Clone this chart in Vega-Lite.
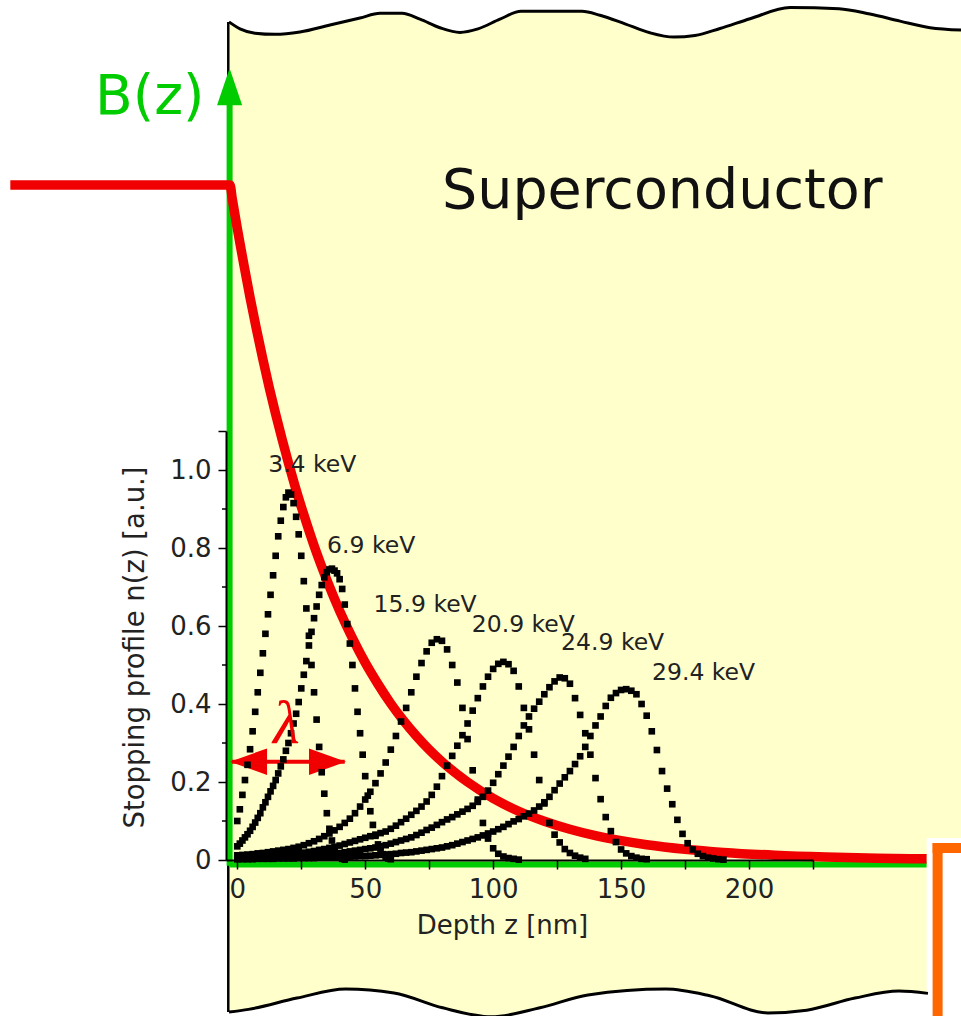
{
 "$schema": "https://vega.github.io/schema/vega-lite/v6.json",
 "width": 587,
 "height": 429,
 "autosize": {"type": "none"},
 "padding": {"left": 226, "top": 431, "right": 148, "bottom": 156},
 "background": "white",
 "config": {"view": {"stroke": null}},
 "datasets": {
  "top": [
   {"z":-3.24,"v":2.149},{"z":1.06,"v":2.131},{"z":6.92,"v":2.12},{"z":14.73,"v":2.117},{"z":24.5,"v":2.123},{"z":36.23,"v":2.141},{"z":47.95,"v":2.159},{"z":55.77,"v":2.171},{"z":64.36,"v":2.171},{"z":71.4,"v":2.156},{"z":79.21,"v":2.134},{"z":87.03,"v":2.122},{"z":94.06,"v":2.131},{"z":102.66,"v":2.156},{"z":110.87,"v":2.176},{"z":134.71,"v":2.176},{"z":141.75,"v":2.166},{"z":151.52,"v":2.144},{"z":161.29,"v":2.121},{"z":170.67,"v":2.11},{"z":178.88,"v":2.114},{"z":188.65,"v":2.132},{"z":200.38,"v":2.157},{"z":216.01,"v":2.186},{"z":235.16,"v":2.183},{"z":247.28,"v":2.169},{"z":259.0,"v":2.151},{"z":270.73,"v":2.134},{"z":282.85,"v":2.128}
  ],
  "bot": [
   {"z":-3.24,"v":-0.39},{"z":4.38,"v":-0.383},{"z":23.33,"v":-0.354},{"z":42.33,"v":-0.331},{"z":61.24,"v":-0.341},{"z":80.27,"v":-0.379},{"z":99.27,"v":-0.402},{"z":118.3,"v":-0.379},{"z":137.06,"v":-0.346},{"z":167.55,"v":-0.331},{"z":184.63,"v":-0.348},{"z":207.41,"v":-0.392},{"z":222.57,"v":-0.385},{"z":241.41,"v":-0.354},{"z":258.6,"v":-0.336},{"z":269.93,"v":-0.342}
  ],
  "field": [
   {"z":-88.7,"b":1.731},{"z":-2.85,"b":1.731},{"z":-2,"b":1.697},{"z":-1,"b":1.658},{"z":0,"b":1.62},{"z":1,"b":1.583},{"z":2.5,"b":1.529},{"z":5,"b":1.442},{"z":7.5,"b":1.361},{"z":10,"b":1.284},{"z":12.5,"b":1.211},{"z":15,"b":1.143},{"z":17.5,"b":1.079},{"z":20,"b":1.018},{"z":22.5,"b":0.96},{"z":25,"b":0.906},{"z":27.5,"b":0.855},{"z":30,"b":0.806},{"z":35,"b":0.718},{"z":40,"b":0.639},{"z":45,"b":0.569},{"z":50,"b":0.506},{"z":55,"b":0.451},{"z":60,"b":0.401},{"z":65,"b":0.357},{"z":70,"b":0.318},{"z":75,"b":0.283},{"z":80,"b":0.252},{"z":90,"b":0.2},{"z":100,"b":0.158},{"z":110,"b":0.125},{"z":120,"b":0.0994},{"z":130,"b":0.0788},{"z":140,"b":0.0624},{"z":150,"b":0.0495},{"z":160,"b":0.0392},{"z":175,"b":0.0277},{"z":190,"b":0.0195},{"z":210,"b":0.0123},{"z":230,"b":0.0077},{"z":250,"b":0.0048},{"z":269.4,"b":0.003}
  ],
  "labels": [
   {"t":"3.4 keV","z":12.08,"n":0.995},{"t":"6.9 keV","z":35.1,"n":0.786},{"t":"15.9 keV","z":53.27,"n":0.636},{"t":"20.9 keV","z":91.65,"n":0.585},{"t":"24.9 keV","z":126.55,"n":0.538},{"t":"29.4 keV","z":162.1,"n":0.4615}
  ],
  "minor": [{"v":0.1},{"v":0.3},{"v":0.5},{"v":0.7},{"v":0.9}],
  "prof": [
   {"e":3.4,"z":0,"n":0.1},{"e":3.4,"z":1,"n":0.13},{"e":3.4,"z":2,"n":0.167},{"e":3.4,"z":3,"n":0.205},{"e":3.4,"z":4,"n":0.244},{"e":3.4,"z":5,"n":0.284},{"e":3.4,"z":6,"n":0.33},{"e":3.4,"z":7,"n":0.38},{"e":3.4,"z":8,"n":0.43},{"e":3.4,"z":9,"n":0.48},{"e":3.4,"z":10,"n":0.53},{"e":3.4,"z":11,"n":0.58},{"e":3.4,"z":12,"n":0.63},{"e":3.4,"z":13,"n":0.68},{"e":3.4,"z":14,"n":0.73},{"e":3.4,"z":15,"n":0.78},{"e":3.4,"z":16,"n":0.83},{"e":3.4,"z":17,"n":0.87},{"e":3.4,"z":18,"n":0.905},{"e":3.4,"z":19,"n":0.93},{"e":3.4,"z":20,"n":0.942},{"e":3.4,"z":21,"n":0.937},{"e":3.4,"z":22,"n":0.915},{"e":3.4,"z":23,"n":0.88},{"e":3.4,"z":24,"n":0.835},{"e":3.4,"z":25,"n":0.78},{"e":3.4,"z":26,"n":0.715},{"e":3.4,"z":27,"n":0.645},{"e":3.4,"z":28,"n":0.575},{"e":3.4,"z":29,"n":0.5},{"e":3.4,"z":30,"n":0.43},{"e":3.4,"z":31,"n":0.36},{"e":3.4,"z":32,"n":0.29},{"e":3.4,"z":33,"n":0.225},{"e":3.4,"z":34,"n":0.17},{"e":3.4,"z":35,"n":0.12},{"e":3.4,"z":36,"n":0.08},{"e":3.4,"z":37,"n":0.05},{"e":3.4,"z":38,"n":0.03},{"e":3.4,"z":39,"n":0.015},{"e":3.4,"z":40,"n":0.007},{"e":3.4,"z":41,"n":0.003},{"e":3.4,"z":42,"n":0.001},
   {"e":6.9,"z":0,"n":0.035},{"e":6.9,"z":1,"n":0.042},{"e":6.9,"z":2,"n":0.05},{"e":6.9,"z":3,"n":0.058},{"e":6.9,"z":4,"n":0.066},{"e":6.9,"z":5,"n":0.075},{"e":6.9,"z":6,"n":0.085},{"e":6.9,"z":7,"n":0.096},{"e":6.9,"z":8,"n":0.108},{"e":6.9,"z":9,"n":0.12},{"e":6.9,"z":10,"n":0.135},{"e":6.9,"z":11,"n":0.148},{"e":6.9,"z":12,"n":0.162},{"e":6.9,"z":13,"n":0.176},{"e":6.9,"z":14,"n":0.19},{"e":6.9,"z":15,"n":0.205},{"e":6.9,"z":16,"n":0.222},{"e":6.9,"z":17,"n":0.24},{"e":6.9,"z":18,"n":0.258},{"e":6.9,"z":19,"n":0.28},{"e":6.9,"z":20,"n":0.3},{"e":6.9,"z":21,"n":0.325},{"e":6.9,"z":22,"n":0.35},{"e":6.9,"z":23,"n":0.375},{"e":6.9,"z":24,"n":0.405},{"e":6.9,"z":25,"n":0.44},{"e":6.9,"z":26,"n":0.475},{"e":6.9,"z":27,"n":0.51},{"e":6.9,"z":28,"n":0.55},{"e":6.9,"z":29,"n":0.585},{"e":6.9,"z":30,"n":0.62},{"e":6.9,"z":31,"n":0.65},{"e":6.9,"z":32,"n":0.68},{"e":6.9,"z":33,"n":0.705},{"e":6.9,"z":34,"n":0.725},{"e":6.9,"z":35,"n":0.738},{"e":6.9,"z":36,"n":0.745},{"e":6.9,"z":37,"n":0.747},{"e":6.9,"z":38,"n":0.742},{"e":6.9,"z":39,"n":0.735},{"e":6.9,"z":40,"n":0.72},{"e":6.9,"z":41,"n":0.695},{"e":6.9,"z":42,"n":0.655},{"e":6.9,"z":43,"n":0.605},{"e":6.9,"z":44,"n":0.555},{"e":6.9,"z":45,"n":0.5},{"e":6.9,"z":46,"n":0.44},{"e":6.9,"z":47,"n":0.38},{"e":6.9,"z":48,"n":0.325},{"e":6.9,"z":49,"n":0.27},{"e":6.9,"z":50,"n":0.215},{"e":6.9,"z":51,"n":0.165},{"e":6.9,"z":52,"n":0.125},{"e":6.9,"z":53,"n":0.09},{"e":6.9,"z":54,"n":0.062},{"e":6.9,"z":55,"n":0.04},{"e":6.9,"z":56,"n":0.025},{"e":6.9,"z":57,"n":0.015},{"e":6.9,"z":58,"n":0.008},{"e":6.9,"z":59,"n":0.004},{"e":6.9,"z":60,"n":0.002},
   {"e":15.9,"z":0,"n":0.012},{"e":15.9,"z":2,"n":0.013},{"e":15.9,"z":4,"n":0.014},{"e":15.9,"z":6,"n":0.015},{"e":15.9,"z":8,"n":0.017},{"e":15.9,"z":10,"n":0.018},{"e":15.9,"z":12,"n":0.02},{"e":15.9,"z":14,"n":0.022},{"e":15.9,"z":16,"n":0.024},{"e":15.9,"z":18,"n":0.026},{"e":15.9,"z":20,"n":0.028},{"e":15.9,"z":22,"n":0.031},{"e":15.9,"z":24,"n":0.034},{"e":15.9,"z":26,"n":0.038},{"e":15.9,"z":28,"n":0.043},{"e":15.9,"z":30,"n":0.048},{"e":15.9,"z":32,"n":0.054},{"e":15.9,"z":34,"n":0.061},{"e":15.9,"z":36,"n":0.068},{"e":15.9,"z":38,"n":0.076},{"e":15.9,"z":40,"n":0.085},{"e":15.9,"z":42,"n":0.095},{"e":15.9,"z":44,"n":0.106},{"e":15.9,"z":46,"n":0.12},{"e":15.9,"z":48,"n":0.137},{"e":15.9,"z":50,"n":0.155},{"e":15.9,"z":52,"n":0.175},{"e":15.9,"z":54,"n":0.197},{"e":15.9,"z":56,"n":0.222},{"e":15.9,"z":58,"n":0.25},{"e":15.9,"z":60,"n":0.283},{"e":15.9,"z":62,"n":0.318},{"e":15.9,"z":64,"n":0.355},{"e":15.9,"z":66,"n":0.39},{"e":15.9,"z":68,"n":0.43},{"e":15.9,"z":70,"n":0.47},{"e":15.9,"z":72,"n":0.505},{"e":15.9,"z":74,"n":0.535},{"e":15.9,"z":76,"n":0.557},{"e":15.9,"z":78,"n":0.566},{"e":15.9,"z":80,"n":0.562},{"e":15.9,"z":82,"n":0.54},{"e":15.9,"z":84,"n":0.5},{"e":15.9,"z":86,"n":0.455},{"e":15.9,"z":88,"n":0.39},{"e":15.9,"z":90,"n":0.31},{"e":15.9,"z":92,"n":0.23},{"e":15.9,"z":94,"n":0.155},{"e":15.9,"z":96,"n":0.095},{"e":15.9,"z":98,"n":0.055},{"e":15.9,"z":100,"n":0.03},{"e":15.9,"z":102,"n":0.016},{"e":15.9,"z":104,"n":0.009},{"e":15.9,"z":106,"n":0.005},{"e":15.9,"z":108,"n":0.003},{"e":15.9,"z":110,"n":0.001},
   {"e":20.9,"z":0,"n":0.005},{"e":20.9,"z":2,"n":0.006},{"e":20.9,"z":4,"n":0.006},{"e":20.9,"z":6,"n":0.007},{"e":20.9,"z":8,"n":0.008},{"e":20.9,"z":10,"n":0.009},{"e":20.9,"z":12,"n":0.01},{"e":20.9,"z":14,"n":0.011},{"e":20.9,"z":16,"n":0.012},{"e":20.9,"z":18,"n":0.013},{"e":20.9,"z":20,"n":0.015},{"e":20.9,"z":22,"n":0.016},{"e":20.9,"z":24,"n":0.018},{"e":20.9,"z":26,"n":0.019},{"e":20.9,"z":28,"n":0.021},{"e":20.9,"z":30,"n":0.023},{"e":20.9,"z":32,"n":0.026},{"e":20.9,"z":34,"n":0.028},{"e":20.9,"z":36,"n":0.031},{"e":20.9,"z":38,"n":0.034},{"e":20.9,"z":40,"n":0.037},{"e":20.9,"z":42,"n":0.041},{"e":20.9,"z":44,"n":0.045},{"e":20.9,"z":46,"n":0.049},{"e":20.9,"z":48,"n":0.053},{"e":20.9,"z":50,"n":0.057},{"e":20.9,"z":52,"n":0.061},{"e":20.9,"z":54,"n":0.065},{"e":20.9,"z":56,"n":0.069},{"e":20.9,"z":58,"n":0.073},{"e":20.9,"z":60,"n":0.08},{"e":20.9,"z":62,"n":0.088},{"e":20.9,"z":64,"n":0.097},{"e":20.9,"z":66,"n":0.106},{"e":20.9,"z":68,"n":0.116},{"e":20.9,"z":70,"n":0.126},{"e":20.9,"z":72,"n":0.137},{"e":20.9,"z":74,"n":0.15},{"e":20.9,"z":76,"n":0.167},{"e":20.9,"z":78,"n":0.188},{"e":20.9,"z":80,"n":0.215},{"e":20.9,"z":82,"n":0.242},{"e":20.9,"z":84,"n":0.267},{"e":20.9,"z":86,"n":0.293},{"e":20.9,"z":88,"n":0.32},{"e":20.9,"z":90,"n":0.35},{"e":20.9,"z":92,"n":0.383},{"e":20.9,"z":94,"n":0.415},{"e":20.9,"z":96,"n":0.445},{"e":20.9,"z":98,"n":0.47},{"e":20.9,"z":100,"n":0.49},{"e":20.9,"z":102,"n":0.503},{"e":20.9,"z":104,"n":0.508},{"e":20.9,"z":106,"n":0.502},{"e":20.9,"z":108,"n":0.485},{"e":20.9,"z":110,"n":0.445},{"e":20.9,"z":112,"n":0.39},{"e":20.9,"z":114,"n":0.335},{"e":20.9,"z":116,"n":0.27},{"e":20.9,"z":118,"n":0.205},{"e":20.9,"z":120,"n":0.145},{"e":20.9,"z":122,"n":0.095},{"e":20.9,"z":124,"n":0.065},{"e":20.9,"z":126,"n":0.045},{"e":20.9,"z":128,"n":0.028},{"e":20.9,"z":130,"n":0.018},{"e":20.9,"z":132,"n":0.011},{"e":20.9,"z":134,"n":0.006},{"e":20.9,"z":136,"n":0.003},
   {"e":24.9,"z":0,"n":0.003},{"e":24.9,"z":2,"n":0.003},{"e":24.9,"z":4,"n":0.003},{"e":24.9,"z":6,"n":0.004},{"e":24.9,"z":8,"n":0.004},{"e":24.9,"z":10,"n":0.005},{"e":24.9,"z":12,"n":0.005},{"e":24.9,"z":14,"n":0.006},{"e":24.9,"z":16,"n":0.006},{"e":24.9,"z":18,"n":0.007},{"e":24.9,"z":20,"n":0.008},{"e":24.9,"z":22,"n":0.008},{"e":24.9,"z":24,"n":0.009},{"e":24.9,"z":26,"n":0.01},{"e":24.9,"z":28,"n":0.011},{"e":24.9,"z":30,"n":0.012},{"e":24.9,"z":32,"n":0.013},{"e":24.9,"z":34,"n":0.014},{"e":24.9,"z":36,"n":0.015},{"e":24.9,"z":38,"n":0.017},{"e":24.9,"z":40,"n":0.018},{"e":24.9,"z":42,"n":0.02},{"e":24.9,"z":44,"n":0.022},{"e":24.9,"z":46,"n":0.024},{"e":24.9,"z":48,"n":0.026},{"e":24.9,"z":50,"n":0.028},{"e":24.9,"z":52,"n":0.03},{"e":24.9,"z":54,"n":0.032},{"e":24.9,"z":56,"n":0.035},{"e":24.9,"z":58,"n":0.038},{"e":24.9,"z":60,"n":0.042},{"e":24.9,"z":62,"n":0.046},{"e":24.9,"z":64,"n":0.05},{"e":24.9,"z":66,"n":0.054},{"e":24.9,"z":68,"n":0.058},{"e":24.9,"z":70,"n":0.064},{"e":24.9,"z":72,"n":0.07},{"e":24.9,"z":74,"n":0.077},{"e":24.9,"z":76,"n":0.083},{"e":24.9,"z":78,"n":0.09},{"e":24.9,"z":80,"n":0.097},{"e":24.9,"z":82,"n":0.104},{"e":24.9,"z":84,"n":0.11},{"e":24.9,"z":86,"n":0.117},{"e":24.9,"z":88,"n":0.124},{"e":24.9,"z":90,"n":0.131},{"e":24.9,"z":92,"n":0.139},{"e":24.9,"z":94,"n":0.149},{"e":24.9,"z":96,"n":0.162},{"e":24.9,"z":98,"n":0.178},{"e":24.9,"z":100,"n":0.198},{"e":24.9,"z":102,"n":0.22},{"e":24.9,"z":104,"n":0.242},{"e":24.9,"z":106,"n":0.265},{"e":24.9,"z":108,"n":0.29},{"e":24.9,"z":110,"n":0.318},{"e":24.9,"z":112,"n":0.345},{"e":24.9,"z":114,"n":0.368},{"e":24.9,"z":116,"n":0.388},{"e":24.9,"z":118,"n":0.406},{"e":24.9,"z":120,"n":0.425},{"e":24.9,"z":122,"n":0.443},{"e":24.9,"z":124,"n":0.458},{"e":24.9,"z":126,"n":0.468},{"e":24.9,"z":128,"n":0.466},{"e":24.9,"z":130,"n":0.452},{"e":24.9,"z":132,"n":0.415},{"e":24.9,"z":134,"n":0.372},{"e":24.9,"z":136,"n":0.325},{"e":24.9,"z":138,"n":0.27},{"e":24.9,"z":140,"n":0.21},{"e":24.9,"z":142,"n":0.156},{"e":24.9,"z":144,"n":0.11},{"e":24.9,"z":146,"n":0.074},{"e":24.9,"z":148,"n":0.046},{"e":24.9,"z":150,"n":0.027},{"e":24.9,"z":152,"n":0.017},{"e":24.9,"z":154,"n":0.01},{"e":24.9,"z":156,"n":0.006},{"e":24.9,"z":158,"n":0.003},{"e":24.9,"z":160,"n":0.002},
   {"e":29.4,"z":0,"n":0.002},{"e":29.4,"z":2,"n":0.002},{"e":29.4,"z":4,"n":0.002},{"e":29.4,"z":6,"n":0.002},{"e":29.4,"z":8,"n":0.003},{"e":29.4,"z":10,"n":0.003},{"e":29.4,"z":12,"n":0.003},{"e":29.4,"z":14,"n":0.003},{"e":29.4,"z":16,"n":0.004},{"e":29.4,"z":18,"n":0.004},{"e":29.4,"z":20,"n":0.004},{"e":29.4,"z":22,"n":0.004},{"e":29.4,"z":24,"n":0.005},{"e":29.4,"z":26,"n":0.005},{"e":29.4,"z":28,"n":0.005},{"e":29.4,"z":30,"n":0.005},{"e":29.4,"z":32,"n":0.006},{"e":29.4,"z":34,"n":0.006},{"e":29.4,"z":36,"n":0.006},{"e":29.4,"z":38,"n":0.007},{"e":29.4,"z":40,"n":0.007},{"e":29.4,"z":42,"n":0.008},{"e":29.4,"z":44,"n":0.008},{"e":29.4,"z":46,"n":0.009},{"e":29.4,"z":48,"n":0.01},{"e":29.4,"z":50,"n":0.01},{"e":29.4,"z":52,"n":0.011},{"e":29.4,"z":54,"n":0.012},{"e":29.4,"z":56,"n":0.013},{"e":29.4,"z":58,"n":0.014},{"e":29.4,"z":60,"n":0.015},{"e":29.4,"z":62,"n":0.016},{"e":29.4,"z":64,"n":0.018},{"e":29.4,"z":66,"n":0.019},{"e":29.4,"z":68,"n":0.02},{"e":29.4,"z":70,"n":0.022},{"e":29.4,"z":72,"n":0.024},{"e":29.4,"z":74,"n":0.026},{"e":29.4,"z":76,"n":0.028},{"e":29.4,"z":78,"n":0.03},{"e":29.4,"z":80,"n":0.032},{"e":29.4,"z":82,"n":0.035},{"e":29.4,"z":84,"n":0.038},{"e":29.4,"z":86,"n":0.042},{"e":29.4,"z":88,"n":0.046},{"e":29.4,"z":90,"n":0.05},{"e":29.4,"z":92,"n":0.054},{"e":29.4,"z":94,"n":0.058},{"e":29.4,"z":96,"n":0.063},{"e":29.4,"z":98,"n":0.068},{"e":29.4,"z":100,"n":0.073},{"e":29.4,"z":102,"n":0.079},{"e":29.4,"z":104,"n":0.085},{"e":29.4,"z":106,"n":0.092},{"e":29.4,"z":108,"n":0.099},{"e":29.4,"z":110,"n":0.105},{"e":29.4,"z":112,"n":0.112},{"e":29.4,"z":114,"n":0.119},{"e":29.4,"z":116,"n":0.127},{"e":29.4,"z":118,"n":0.137},{"e":29.4,"z":120,"n":0.148},{"e":29.4,"z":122,"n":0.162},{"e":29.4,"z":124,"n":0.179},{"e":29.4,"z":126,"n":0.196},{"e":29.4,"z":128,"n":0.212},{"e":29.4,"z":130,"n":0.228},{"e":29.4,"z":132,"n":0.246},{"e":29.4,"z":134,"n":0.266},{"e":29.4,"z":136,"n":0.29},{"e":29.4,"z":138,"n":0.318},{"e":29.4,"z":140,"n":0.345},{"e":29.4,"z":142,"n":0.368},{"e":29.4,"z":144,"n":0.395},{"e":29.4,"z":146,"n":0.416},{"e":29.4,"z":148,"n":0.428},{"e":29.4,"z":150,"n":0.436},{"e":29.4,"z":152,"n":0.438},{"e":29.4,"z":154,"n":0.434},{"e":29.4,"z":156,"n":0.425},{"e":29.4,"z":158,"n":0.4},{"e":29.4,"z":160,"n":0.37},{"e":29.4,"z":162,"n":0.33},{"e":29.4,"z":164,"n":0.282},{"e":29.4,"z":166,"n":0.228},{"e":29.4,"z":168,"n":0.183},{"e":29.4,"z":170,"n":0.143},{"e":29.4,"z":172,"n":0.103},{"e":29.4,"z":174,"n":0.067},{"e":29.4,"z":176,"n":0.043},{"e":29.4,"z":178,"n":0.027},{"e":29.4,"z":180,"n":0.016},{"e":29.4,"z":182,"n":0.01},{"e":29.4,"z":184,"n":0.006},{"e":29.4,"z":186,"n":0.004},{"e":29.4,"z":188,"n":0.002},{"e":29.4,"z":190,"n":0.001}
  ]
 },
 "layer": [
  {
   "data": {"name": "top"},
   "mark": {"type": "area", "color": "#ffffcc", "interpolate": "monotone"},
   "encoding": {
    "x": {"field": "z", "type": "quantitative", "scale": {"domain": [-4.41, 225], "nice": false, "zero": false},
     "axis": {"title": "Depth z [nm]", "values": [0,25,50,75,100,125,150,175,200,225],
      "labelExpr": "datum.value % 50 == 0 && datum.value <= 200 ? datum.label : ''",
      "domainColor": "black", "domainWidth": 2, "tickColor": "black", "tickWidth": 1.5, "tickSize": 9,
      "labelPadding": 7, "labelFont": "DejaVu Sans", "labelFontSize": 26, "labelColor": "#222222",
      "labelFlush": false, "labelOverlap": false, "grid": false, "zindex": 1,
      "titleFont": "DejaVu Sans", "titleFontSize": 26, "titleFontWeight": "normal", "titleColor": "#222222",
      "titleX": 276, "titleY": 73, "titleBaseline": "alphabetic", "titleAlign": "center"}},
    "y": {"field": "v", "type": "quantitative", "scale": {"domain": [0, 1.1], "nice": false, "zero": false},
     "axis": {"title": "Stopping profile n(z)  [a.u.]", "values": [0,0.2,0.4,0.6,0.8,1,1.1],
      "labelExpr": "datum.value > 1.05 ? '' : (datum.value == 0 ? '0' : format(datum.value, '.1f'))",
      "domainColor": "black", "domainWidth": 2, "tickColor": "black", "tickWidth": 1.5, "tickSize": 8,
      "labelPadding": 7, "labelFont": "DejaVu Sans", "labelFontSize": 26, "labelColor": "#222222",
      "labelFlush": false, "labelOverlap": false, "grid": false, "zindex": 1,
      "titleFont": "DejaVu Sans", "titleFontSize": 27.5, "titleFontWeight": "normal", "titleColor": "#222222",
      "titleX": -83, "titleY": 216, "titleAngle": -90, "titleBaseline": "alphabetic", "titleAlign": "center"}},
    "y2": {"datum": -0.42}
   }
  },
  {
   "data": {"name": "bot"},
   "mark": {"type": "area", "color": "white", "interpolate": "monotone"},
   "encoding": {"x": {"field": "z", "type": "quantitative"}, "y": {"field": "v", "type": "quantitative"}, "y2": {"datum": -0.45}}
  },
  {
   "data": {"values": [{}]},
   "mark": {"type": "rect", "color": "white"},
   "encoding": {"x": {"datum": 269.4}, "x2": {"datum": 290}, "y": {"datum": 0.0564}, "y2": {"datum": -0.45}}
  },
  {
   "data": {"name": "top"},
   "mark": {"type": "line", "color": "black", "strokeWidth": 3, "interpolate": "monotone"},
   "encoding": {"x": {"field": "z", "type": "quantitative"}, "y": {"field": "v", "type": "quantitative"}}
  },
  {
   "data": {"name": "bot"},
   "mark": {"type": "line", "color": "black", "strokeWidth": 3, "interpolate": "monotone"},
   "encoding": {"x": {"field": "z", "type": "quantitative"}, "y": {"field": "v", "type": "quantitative"}}
  },
  {
   "data": {"values": [{}]},
   "mark": {"type": "rule", "color": "black", "strokeWidth": 2.5},
   "encoding": {"x": {"datum": -3.52}, "y": {"datum": -0.39}, "y2": {"datum": 2.149}}
  },
  {
   "data": {"values": [{}]},
   "mark": {"type": "rule", "color": "#ff6600", "strokeWidth": 10},
   "encoding": {"x": {"datum": 273.7}, "y": {"datum": -0.45}, "y2": {"datum": 0.0436}}
  },
  {
   "data": {"values": [{}]},
   "mark": {"type": "rule", "color": "#ff6600", "strokeWidth": 10},
   "encoding": {"x": {"datum": 271.75}, "x2": {"datum": 290}, "y": {"datum": 0.0308}}
  },
  {
   "data": {"values": [{}]},
   "mark": {"type": "rule", "color": "#00cc00", "strokeWidth": 6},
   "encoding": {"x": {"datum": -3.0}, "y": {"datum": -0.015}, "y2": {"datum": 1.96}}
  },
  {
   "data": {"values": [{}]},
   "mark": {"type": "rule", "color": "#00cc00", "strokeWidth": 6},
   "encoding": {"x": {"datum": -3.24}, "x2": {"datum": 269.4}, "y": {"datum": -0.0115}}
  },
  {
   "data": {"name": "field"},
   "mark": {"type": "line", "color": "#f00000", "strokeWidth": 9.5, "interpolate": "monotone"},
   "encoding": {"x": {"field": "z", "type": "quantitative"}, "y": {"field": "b", "type": "quantitative"}}
  },
  {
   "data": {"values": [{}]},
   "mark": {"type": "rule", "color": "#f00000", "strokeWidth": 4},
   "encoding": {"x": {"datum": -2.1}, "x2": {"datum": 42}, "y": {"datum": 0.252}}
  },
  {
   "data": {"values": [{}]},
   "mark": {"type": "point", "shape": "M-1,0L1,-0.72L1,0.72Z", "size": 1369, "filled": true, "color": "#f00000", "opacity": 1, "strokeWidth": 0},
   "encoding": {"x": {"datum": 4.4}, "y": {"datum": 0.252}}
  },
  {
   "data": {"values": [{}]},
   "mark": {"type": "point", "shape": "M1,0L-1,-0.72L-1,0.72Z", "size": 1369, "filled": true, "color": "#f00000", "opacity": 1, "strokeWidth": 0},
   "encoding": {"x": {"datum": 35.25}, "y": {"datum": 0.252}}
  },
  {
   "data": {"name": "minor"},
   "mark": {"type": "rule", "color": "black", "strokeWidth": 1.5},
   "encoding": {"x": {"datum": -5.98}, "x2": {"datum": -4.41}, "y": {"field": "v", "type": "quantitative"}}
  },
  {
   "data": {"name": "prof"},
   "mark": {"type": "point", "shape": "square", "size": 44, "filled": true, "color": "black", "opacity": 1, "strokeWidth": 0},
   "encoding": {"x": {"field": "z", "type": "quantitative"}, "y": {"field": "n", "type": "quantitative"}, "detail": {"field": "e", "type": "nominal"}}
  },
  {
   "data": {"name": "labels"},
   "mark": {"type": "text", "align": "left", "baseline": "alphabetic", "font": "DejaVu Sans", "fontSize": 23.5, "color": "#222222"},
   "encoding": {"x": {"field": "z", "type": "quantitative"}, "y": {"field": "n", "type": "quantitative"}, "text": {"field": "t"}}
  },
  {
   "data": {"values": [{}]},
   "mark": {"type": "text", "text": "Superconductor", "align": "left", "baseline": "alphabetic", "font": "DejaVu Sans", "fontSize": 55.5, "color": "#111111"},
   "encoding": {"x": {"datum": 80}, "y": {"datum": 1.673}}
  },
  {
   "data": {"values": [{}]},
   "mark": {"type": "text", "text": "B(z)", "align": "left", "baseline": "alphabetic", "font": "DejaVu Sans", "fontSize": 55, "color": "#00cc00"},
   "encoding": {"x": {"datum": -55.6}, "y": {"datum": 1.912}}
  },
  {
   "data": {"values": [{}]},
   "mark": {"type": "text", "text": "λ", "align": "center", "baseline": "alphabetic", "font": "Liberation Serif", "fontStyle": "italic", "fontSize": 62, "color": "#f00000"},
   "encoding": {"x": {"datum": 19.2}, "y": {"datum": 0.3}}
  },
  {
   "data": {"values": [{}]},
   "mark": {"type": "point", "shape": "M0,-1L0.68,1L-0.68,1Z", "size": 1369, "filled": true, "color": "#00cc00", "opacity": 1, "strokeWidth": 0},
   "encoding": {"x": {"datum": -3.0}, "y": {"datum": 1.983}}
  }
 ]
}
